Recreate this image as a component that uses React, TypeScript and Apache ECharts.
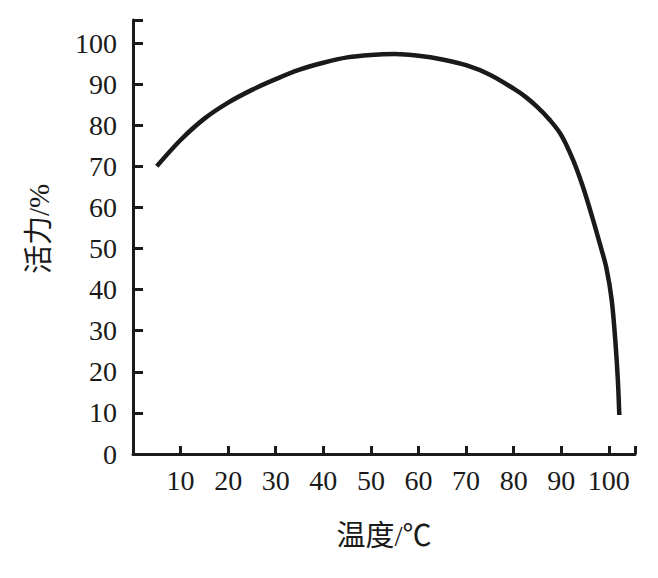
import React, { useEffect, useRef } from "react";
import * as echarts from "echarts";

const temperature = [5, 10, 15, 20, 25, 30, 35, 40, 45, 50, 55, 60, 65, 70, 75, 80, 82.5, 85, 87.5, 90, 92.5, 94.5, 96.5, 98.2, 99.5, 100.6, 101.4, 101.9, 102.2];
const activity = [70, 76.4, 81.6, 85.5, 88.6, 91.2, 93.5, 95.2, 96.5, 97.1, 97.3, 96.9, 96, 94.6, 92.3, 88.9, 86.9, 84.4, 81.4, 77.6, 71.5, 65.2, 57.7, 50.8, 45.2, 37.5, 27, 18, 9.5];
const xTicks = [10, 20, 30, 40, 50, 60, 70, 80, 90, 100];
const yTicks = [0, 10, 20, 30, 40, 50, 60, 70, 80, 90, 100];

const FONT = "Liberation Serif";
const NAME_FONT = "Liberation Serif, Noto Sans CJK SC";
const INK = "#1a1a1a";

export default function App() {
  const ref = useRef<HTMLDivElement>(null);
  useEffect(() => {
    if (!ref.current) return;
    const chart = echarts.init(ref.current, null, { renderer: "svg" });
    const data = temperature.map((t, i) => [t, activity[i]]);
    chart.setOption({
      animation: false,
      backgroundColor: "#ffffff",
      grid: { left: 133, right: 23, top: 20, bottom: 124 },
      xAxis: {
        type: "value",
        min: 0,
        max: 105.5,
        interval: 10,
        name: "温度/℃",
        nameLocation: "middle",
        nameGap: 67,
        nameTextStyle: { fontFamily: NAME_FONT, fontSize: 29, color: INK },
        axisLine: { show: true, lineStyle: { color: INK, width: 3 } },
        axisTick: { show: true, inside: true, length: 8, lineStyle: { color: INK, width: 3 } },
        axisLabel: {
          fontFamily: FONT,
          fontSize: 28,
          color: INK,
          margin: 12,
          formatter: (v: number) => (xTicks.includes(v) ? String(v) : ""),
        },
        splitLine: { show: false },
      },
      yAxis: {
        type: "value",
        min: 0,
        max: 105.6,
        interval: 10,
        name: "活力/%",
        nameLocation: "middle",
        nameGap: 80,
        nameRotate: 90,
        nameTextStyle: { fontFamily: NAME_FONT, fontSize: 29, color: INK, padding: [0, 0, 0, 16] },
        axisLine: { show: true, lineStyle: { color: INK, width: 3 } },
        axisTick: { show: true, inside: true, length: 10, lineStyle: { color: INK, width: 3 } },
        axisLabel: {
          fontFamily: FONT,
          fontSize: 28,
          color: INK,
          margin: 16,
          formatter: (v: number) => (yTicks.includes(v) ? String(v) : ""),
        },
        splitLine: { show: false },
      },
      series: [
        {
          type: "line",
          data,
          smooth: 0.35,
          showSymbol: false,
          lineStyle: { color: INK, width: 4.5 },
        },
      ],
    });
    return () => chart.dispose();
  }, []);
  return (
    <div
      ref={ref}
      style={{ position: "fixed", left: 0, top: 0, width: 658, height: 578, background: "#fff" }}
    />
  );
}
